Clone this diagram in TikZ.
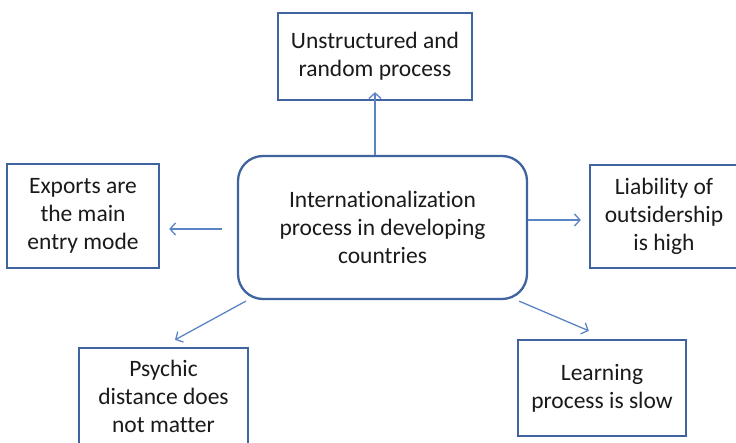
\documentclass[tikz,border=0pt]{standalone}
\usepackage{fontspec}
\setmainfont[Ligatures=NoCommon]{Carlito}
\usetikzlibrary{arrows.meta,calc}
\definecolor{boxline}{HTML}{3F64A0}
\definecolor{arrowline}{HTML}{5B84C4}
\definecolor{txt}{HTML}{1A1A1A}
\tikzset{
  box/.style={draw=boxline, line width=2.3pt, fill=white, align=center,
    text=txt, inner sep=0pt, font=\fontsize{23.5}{28}\selectfont},
  hub/.style={box, rounded corners=25pt},
  arr/.style={draw=arrowline, line width=1.3pt,
    -{Straight Barb[length=5.5pt,width=12pt,line width=1.3pt]}}
}
\begin{document}
\begin{tikzpicture}[x=1pt,y=1pt]
\useasboundingbox (0,0) rectangle (736,442);
\clip (0,0) rectangle (736,442);
% central theme
\node[hub, minimum width=289pt, minimum height=143pt] (c) at (382.5,214.5)
  {Internationalization\\process in developing\\countries};
% surrounding characteristics
\node[box, minimum width=194pt, minimum height=87pt] (t) at (375,385.5)
  {Unstructured and\\random process};
\node[box, minimum width=152pt, minimum height=104pt] (l) at (83,226)
  {Exports are\\the main\\entry mode};
\node[box, minimum width=148pt, minimum height=103pt] (r) at (664,225.5)
  {Liability of\\outsidership\\is high};
\node[box, minimum width=169pt, minimum height=96pt] (bl) at (163.5,46)
  {Psychic\\distance does\\not matter};
\node[box, minimum width=168pt, minimum height=96pt] (br) at (602,54)
  {Learning\\process is slow};
% connector end points
\coordinate (blstart) at ($(c.south west)+(9,-1)$);
\coordinate (blend) at ($(bl.north)+(11.5,7)$);
\coordinate (brstart) at ($(c.south east)+(-9,-1)$);
\coordinate (brend) at ($(br.north west)+(72,8)$);
% connectors
\draw[arr] (c.north -| t.south) -- ([yshift=9pt]t.south);
\draw[arr] ([xshift=-15pt,yshift=-1.5pt]c.west) -- ([xshift=9pt]l.east |- {0,213});
\draw[arr] ([yshift=7.5pt]c.east) -- ([xshift=-8pt]r.west |- {0,222});
\draw[arr] (blstart) -- (blend);
\draw[arr] (brstart) -- (brend);
\end{tikzpicture}
\end{document}
